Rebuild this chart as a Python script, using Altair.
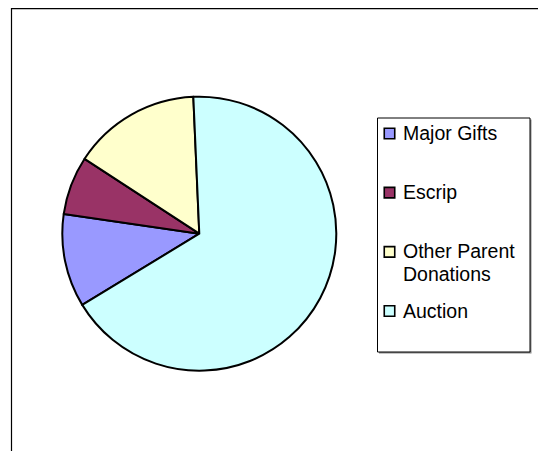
import math
import altair as alt
import pandas as pd

# Data
categories = ["Major Gifts", "Escrip", "Other Parent Donations", "Auction"]
labels = ["Major Gifts", "Escrip", "Other Parent\nDonations", "Auction"]
shares = [11.0, 6.9, 15.1, 67.0]
colors = ["#9999FF", "#993366", "#FFFFCC", "#CCFFFF"]

df = pd.DataFrame({
    "category": categories,
    "label": labels,
    "share": shares,
    "idx": list(range(len(categories))),
})
one = pd.DataFrame({"a": [0]})

start = math.radians(238.7)
color_scale = alt.Scale(domain=categories, range=colors)
y_scale = alt.Scale(domain=[0, 3], range=[125.5, 303], nice=False, zero=False)

pie = alt.Chart(df).mark_arc(
    outerRadius=137, stroke="black", strokeWidth=2, strokeJoin="round"
).encode(
    theta=alt.Theta("share:Q", stack=True,
                    scale=alt.Scale(range=[start, start + 2 * math.pi])),
    color=alt.Color("category:N", scale=color_scale, legend=None),
    order=alt.Order("idx:Q"),
    x=alt.value(191.3),
    y=alt.value(225.7),
)

frame_top = alt.Chart(one).mark_rule(color="black", strokeWidth=1.2).encode(
    x=alt.value(3.5), x2=alt.value(530), y=alt.value(0.6)
)
frame_left = alt.Chart(one).mark_rule(color="black", strokeWidth=1.2).encode(
    x=alt.value(3.5), y=alt.value(0), y2=alt.value(443)
)

shadow = alt.Chart(one).mark_rect(fill="#8a8a8a").encode(
    x=alt.value(371), x2=alt.value(523.5), y=alt.value(111.5), y2=alt.value(345.5)
)
box = alt.Chart(one).mark_rect(fill="white", stroke="black", strokeWidth=1).encode(
    x=alt.value(369.5), x2=alt.value(522), y=alt.value(110), y2=alt.value(344)
)

swatches = alt.Chart(df).mark_square(
    size=110, stroke="black", strokeWidth=1.6, opacity=1
).encode(
    x=alt.value(389.5 - 8),
    y=alt.Y("idx:Q", scale=y_scale, axis=None),
    color=alt.Color("category:N", scale=color_scale, legend=None),
)

texts = alt.Chart(df).mark_text(
    align="left", baseline="alphabetic", dy=6.5, fontSize=19.5,
    font="Liberation Sans", lineBreak="\n", lineHeight=23, color="black"
).encode(
    x=alt.value(395),
    y=alt.Y("idx:Q", scale=y_scale, axis=None),
    text="label:N",
)

chart = alt.layer(
    frame_top, frame_left, pie, shadow, box, swatches, texts
).properties(
    width=530, height=443, padding=0,
    autosize=alt.AutoSizeParams(type="none"),
).configure_view(stroke=None)

chart.save("out.html", embed_options={"renderer": "svg", "actions": False})
